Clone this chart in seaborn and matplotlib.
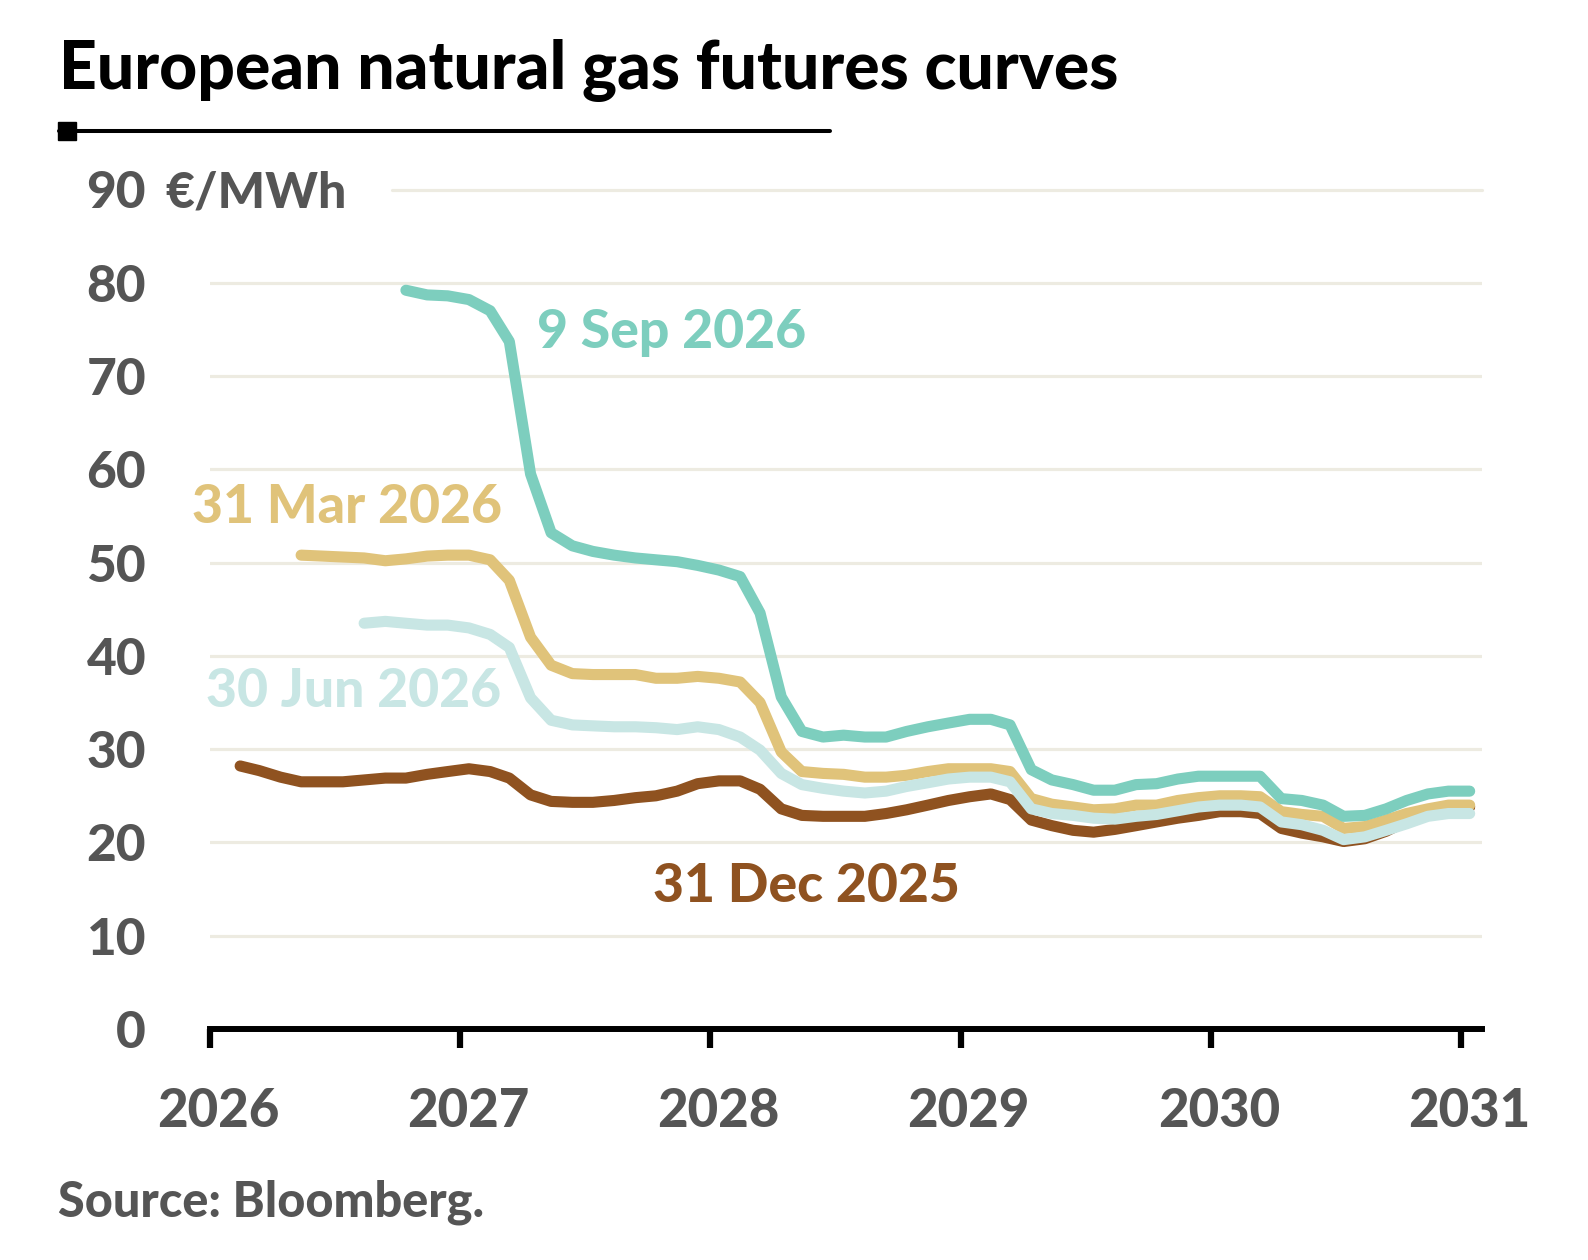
import pandas as pd
import matplotlib
matplotlib.use('Agg')
import matplotlib.pyplot as plt
import matplotlib.transforms as mtransforms
from matplotlib.patches import Rectangle
from matplotlib.lines import Line2D
import seaborn as sns

sns.set_theme(style='white')
plt.rcParams['font.family'] = ['Lato', 'DejaVu Sans']

# monthly futures contracts, month index 0 = Jan 2026
curve_names = ['31 Dec 2025', '31 Mar 2026', '30 Jun 2026', '9 Sep 2026']
curve_colors = ['#8f5220', '#e0c37a', '#c8e6e4', '#7dcebe']
curve_start = [1, 4, 7, 9]

dec25 = [28.2, 27.7, 27.0, 26.5, 26.5, 26.5, 26.7, 26.9, 26.9, 27.3,
         27.6, 27.9, 27.6, 26.9, 25.1, 24.4, 24.3, 24.3, 24.5, 24.8,
         25.0, 25.5, 26.3, 26.6, 26.6, 25.7, 23.6, 22.9, 22.8, 22.8,
         22.8, 23.1, 23.5, 24.0, 24.5, 24.9, 25.2, 24.6, 22.4, 21.8,
         21.3, 21.1, 21.4, 21.8, 22.2, 22.6, 22.9, 23.3, 23.3, 23.1,
         21.5, 21.0, 20.6, 20.1, 20.4, 21.2, 22.3, 23.0, 23.6, 23.8]
mar26 = [50.8, 50.7, 50.6, 50.5, 50.2, 50.4, 50.7, 50.8, 50.8, 50.3,
         48.1, 42.0, 39.0, 38.1, 38.0, 38.0, 38.0, 37.6, 37.6, 37.8,
         37.6, 37.2, 35.0, 29.7, 27.6, 27.4, 27.3, 27.0, 27.0, 27.2,
         27.6, 27.9, 27.9, 27.9, 27.6, 24.7, 24.1, 23.8, 23.5, 23.6,
         24.0, 24.0, 24.5, 24.8, 25.0, 25.0, 24.9, 23.3, 23.0, 22.8,
         21.5, 21.7, 22.4, 23.1, 23.6, 24.0, 24.0]
jun26 = [43.5, 43.7, 43.5, 43.3, 43.3, 43.0, 42.3, 40.9, 35.5, 33.1,
         32.6, 32.5, 32.4, 32.4, 32.3, 32.1, 32.4, 32.1, 31.3, 29.9,
         27.4, 26.2, 25.8, 25.5, 25.3, 25.5, 26.0, 26.4, 26.8, 27.0,
         27.0, 26.5, 23.6, 23.1, 22.9, 22.6, 22.5, 22.8, 23.0, 23.4,
         23.8, 24.0, 24.0, 23.8, 22.2, 21.9, 21.3, 20.3, 20.6, 21.3,
         22.0, 22.8, 23.1, 23.1]
sep26 = [79.2, 78.7, 78.6, 78.2, 77.0, 73.7, 59.5, 53.2, 51.8, 51.2,
         50.8, 50.5, 50.3, 50.1, 49.7, 49.2, 48.5, 44.6, 35.6, 31.9,
         31.3, 31.5, 31.3, 31.3, 31.9, 32.4, 32.8, 33.2, 33.2, 32.6,
         27.8, 26.7, 26.2, 25.6, 25.6, 26.2, 26.3, 26.8, 27.1, 27.1,
         27.1, 27.1, 24.7, 24.5, 24.0, 22.8, 22.9, 23.6, 24.5, 25.2,
         25.5, 25.5]
curve_values = [dec25, mar26, jun26, sep26]

year_ticks = [2026, 2027, 2028, 2029, 2030, 2031]
y_ticks = [0, 10, 20, 30, 40, 50, 60, 70, 80, 90]

frames = []
for name, start, vals in zip(curve_names, curve_start, curve_values):
    months = pd.date_range('2026-01-01', periods=start + len(vals), freq='MS')[start:]
    frames.append(pd.DataFrame({'date': months + pd.Timedelta(days=13),
                                'price': vals, 'curve': name}))
df = pd.concat(frames, ignore_index=True)

grey = '#555555'
heavy = 'black'
fig = plt.figure(figsize=(15.88, 12.6), dpi=100)
ax = fig.add_axes([210 / 1588, 1 - 1029 / 1260, 1272 / 1588, (1029 - 189.5) / 1260])

# gridlines
for v in y_ticks[1:-1]:
    ax.axhline(v, color='#edebe1', lw=2.3, zorder=0)
ax.axhline(90, xmin=0.143, color='#edebe1', lw=2.3, zorder=0, clip_on=False)

sns.lineplot(data=df, x='date', y='price', hue='curve', hue_order=curve_names,
             palette=dict(zip(curve_names, curve_colors)), lw=8,
             solid_capstyle='round', solid_joinstyle='round', legend=False, ax=ax)

ax.set_xlim(pd.Timestamp('2026-01-01'), pd.Timestamp('2031-02-01'))
ax.set_ylim(0, 90)
ax.set_xlabel('')
ax.set_ylabel('')
ax.set_xticks([pd.Timestamp(f'{y}-01-01') for y in year_ticks])
ax.set_xticklabels([str(y) for y in year_ticks])
ax.set_yticks(y_ticks)
ax.set_yticklabels([str(v) for v in y_ticks])
ax.tick_params(axis='x', length=14, width=4.5, color='black', pad=28,
               labelsize=38, labelcolor=grey, direction='out', bottom=True)
ax.tick_params(axis='y', length=0, pad=46, labelsize=37, labelcolor=grey)
shift = mtransforms.ScaledTranslation(8 / 100, 0, fig.dpi_scale_trans)
for lab in ax.get_xticklabels():
    lab.set_fontweight(heavy)
    lab.set_transform(lab.get_transform() + shift)
for lab in ax.get_yticklabels():
    lab.set_fontweight(heavy)
for s in ['left', 'top', 'right']:
    ax.spines[s].set_visible(False)
ax.spines['bottom'].set_color('black')
ax.spines['bottom'].set_linewidth(4.3)
ax.spines['bottom'].set_zorder(5)
ax.set_facecolor('white')

fig.text(165 / 1588, 1 - 189.5 / 1260, '€/MWh', color=grey, fontsize=36,
         fontweight=heavy, ha='left', va='center_baseline')

# curve labels
label_pos = [(0.348, 0.170), (-0.014, 0.621), (-0.003, 0.402), (0.257, 0.830)]
for name, col, (xf, yf) in zip(curve_names, curve_colors, label_pos):
    ax.text(xf, yf, name, transform=ax.transAxes, color=col, fontsize=38.5,
            fontweight=heavy, ha='left', va='center')

# title block
fig.text(59 / 1588, 1 - 89 / 1260, 'European natural gas futures curves',
         fontsize=47.5, fontweight=heavy, color='black', ha='left', va='baseline')
fig.add_artist(Line2D([59 / 1588, 830 / 1588], [1 - 131 / 1260] * 2,
                      color='black', lw=2.9, transform=fig.transFigure))
fig.add_artist(Rectangle((58 / 1588, 1 - 140 / 1260), 18 / 1588, 18 / 1260,
                         color='black', transform=fig.transFigure))

fig.text(58 / 1588, 1 - 1202 / 1260, 'Source: Bloomberg.', fontsize=35,
         fontweight=heavy, color=grey, ha='left', va='center')

fig.savefig('out.png', dpi=100, facecolor='white')
